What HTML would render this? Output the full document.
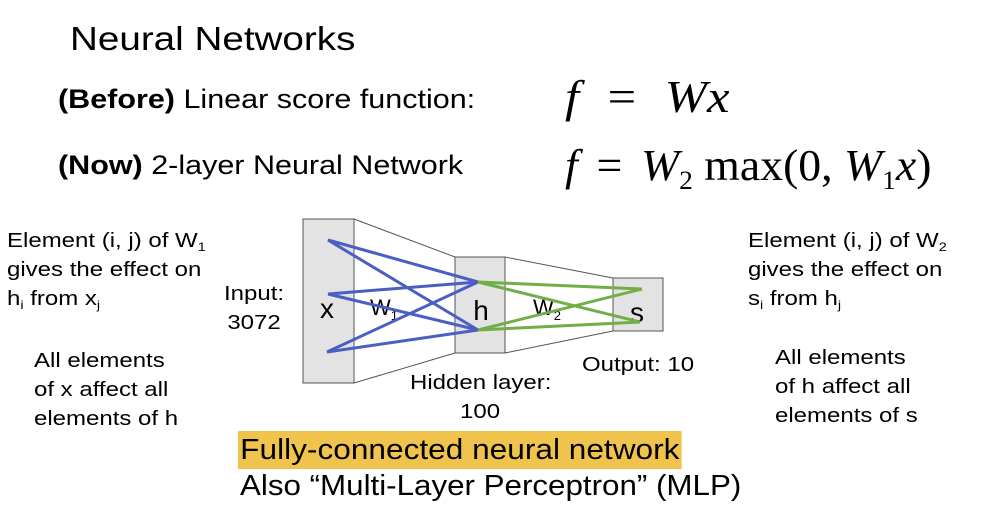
<!DOCTYPE html>
<html><head><style>
body{margin:0;width:1003px;height:513px;background:#fff;position:relative;overflow:hidden;font-family:"Liberation Sans",sans-serif;color:#000}
.t{position:absolute;white-space:nowrap;transform-origin:0 0}
.m{font-family:"Liberation Serif",serif;font-style:italic}
sub{font-size:60%;line-height:0;vertical-align:baseline;position:relative;top:0.35em}
.s{font-size:20px;line-height:29px;transform:scaleX(1.2)}
.eq{margin:0 18px;font-style:normal}
</style></head><body>
<div class="t" style="left:70px;top:20px;font-size:33px;transform:scaleX(1.17)">Neural Networks</div>
<div class="t" style="left:58px;top:84px;font-size:27px;transform:scaleX(1.13)"><b>(Before)</b> Linear score function:</div>
<div class="t" style="left:58px;top:150px;font-size:27px;transform:scaleX(1.13)"><b>(Now)</b> 2-layer Neural Network</div>
<div class="t m" style="left:565px;top:70px;font-size:46px;transform:scaleX(1.1)">f<span class="eq" style="margin:0 26px">=</span>Wx</div>
<div class="t m" style="left:565px;top:140px;font-size:44px;transform:scaleX(1.04)">f<span class="eq">=</span>W<sub style="font-style:normal">2</sub> <span style="font-style:normal">max(0,</span> W<sub style="font-style:normal">1</sub>x<span style="font-style:normal">)</span></div>
<div class="t s" style="left:7px;top:227px">Element (i, j) of W<sub>1</sub><br>gives the effect on<br>h<sub>i</sub> from x<sub>j</sub></div>
<div class="t s" style="left:34px;top:347px">All elements<br>of x affect all<br>elements of h</div>
<div class="t s" style="left:748px;top:227px">Element (i, j) of W<sub>2</sub><br>gives the effect on<br>s<sub>i</sub> from h<sub>j</sub></div>
<div class="t s" style="left:775px;top:344px">All elements<br>of h affect all<br>elements of s</div>
<div class="t s" style="left:224px;top:280px;text-align:center;line-height:29px">Input:<br>3072</div>
<div class="t s" style="left:582px;top:351px">Output: 10</div>
<div class="t s" style="left:410px;top:369px">Hidden layer:</div>
<div class="t s" style="left:460px;top:398px">100</div>
<div class="t" style="left:238px;top:431px;font-size:29px;background:#f0c44c;padding:0 2px;line-height:38px;transform:scaleX(1.09)">Fully-connected neural network</div>
<div class="t" style="left:240px;top:470px;font-size:29px;transform:scaleX(1.08)">Also “Multi-Layer Perceptron” (MLP)</div>
<svg width="1003" height="513" style="position:absolute;left:0;top:0">
<g stroke="#555" stroke-width="1" fill="#e3e3e3">
<rect x="303" y="219" width="51" height="164"/>
<rect x="455" y="257" width="50" height="96"/>
<rect x="613" y="278" width="50" height="53"/>
<line x1="354" y1="219" x2="455" y2="257"/><line x1="354" y1="383" x2="455" y2="353"/>
<line x1="505" y1="257" x2="613" y2="278"/><line x1="505" y1="353" x2="613" y2="331"/>
</g>
<g font-family="Liberation Sans" font-size="28" text-anchor="middle">
<text x="327" y="318">x</text><text x="481" y="320">h</text><text x="637" y="322">s</text>
<text x="384" y="315" font-size="22">W<tspan font-size="13" dy="5">1</tspan></text>
<text x="547" y="315" font-size="22">W<tspan font-size="13" dy="5">2</tspan></text>
</g>
<g stroke="#4a5fc1" stroke-width="3">
<line x1="328" y1="240" x2="478" y2="282"/><line x1="328" y1="240" x2="478" y2="330"/>
<line x1="328" y1="294" x2="478" y2="282"/><line x1="328" y1="294" x2="478" y2="330"/>
<line x1="327" y1="352" x2="478" y2="282"/><line x1="327" y1="352" x2="478" y2="330"/>
</g>
<g stroke="#72ad48" stroke-width="3">
<line x1="478" y1="282" x2="642" y2="289"/><line x1="478" y1="282" x2="640" y2="322"/>
<line x1="478" y1="330" x2="642" y2="289"/><line x1="478" y1="330" x2="640" y2="322"/>
</g>
</svg>
</body></html>
